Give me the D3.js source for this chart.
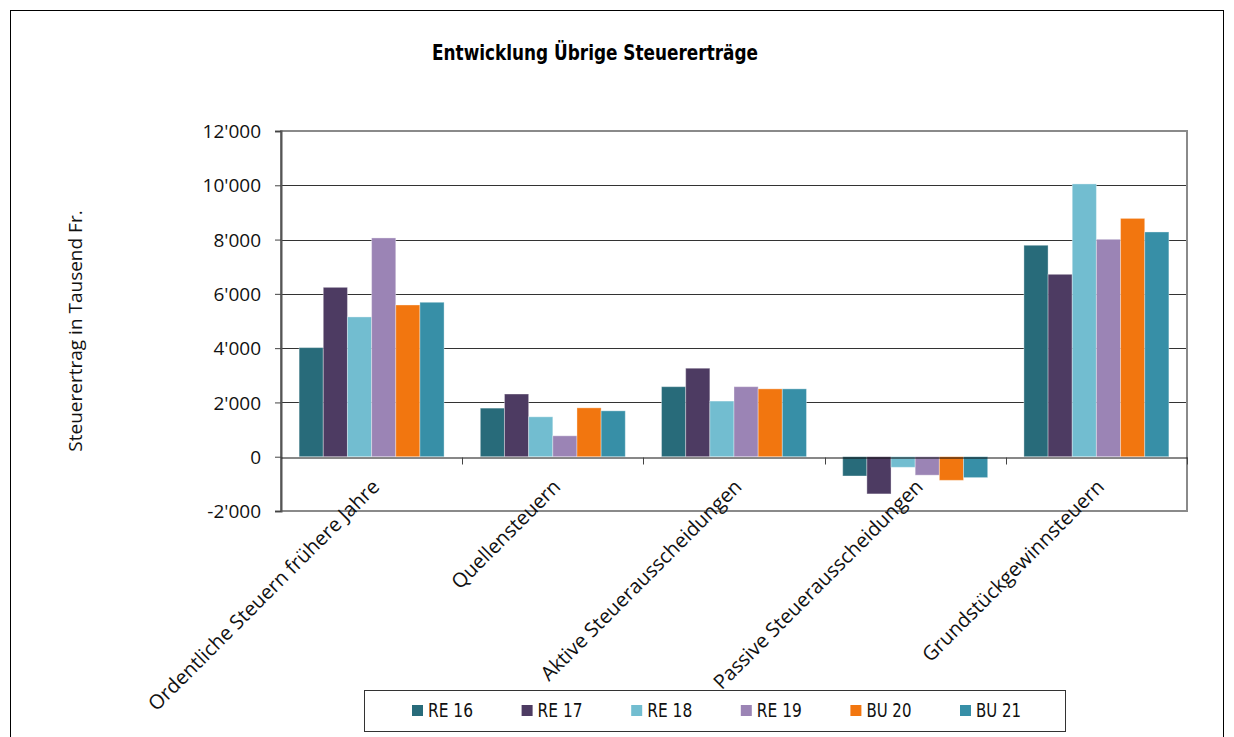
<!DOCTYPE html>
<html>
<head>
<meta charset="utf-8">
<script src="https://cdn.jsdelivr.net/npm/d3@7"></script>
<style>
  body { margin: 0; background: #fff; }
  svg { display: block; }
  .tick-label { font-family: "Open Sans", sans-serif; font-size: 19px; fill: #111; }
  .cat-label { font-family: "Open Sans", sans-serif; font-size: 20px; fill: #111; }
  .legend-label { font-family: "DejaVu Sans Condensed", sans-serif; font-size: 20px; fill: #111; }
</style>
</head>
<body>
<svg id="chart" width="1234" height="737"></svg>
<script>
let categories = ['Ordentliche Steuern frühere Jahre', 'Quellensteuern', 'Aktive Steuerausscheidungen',
                  'Passive Steuerausscheidungen', 'Grundstückgewinnsteuern'];
let series = ['RE 16', 'RE 17', 'RE 18', 'RE 19', 'BU 20', 'BU 21'];
let colors = ['#286b7a', '#4d3b62', '#72bdd0', '#9b84b5', '#f2760f', '#378fa7'];

let re16 = [4020, 1790, 2580, -710, 7790];
let re17 = [6240, 2310, 3260, -1370, 6720];
let re18 = [5150, 1470, 2050, -390, 10050];
let re19 = [8060, 770, 2580, -680, 8010];
let bu20 = [5590, 1800, 2500, -870, 8780];
let bu21 = [5690, 1690, 2500, -770, 8280];
let values = [re16, re17, re18, re19, bu20, bu21];

let yTicks = [-2000, 0, 2000, 4000, 6000, 8000, 10000, 12000];

var config = {
    left: 281,
    right: 1187,
    top: 131,
    bottom: 511
}

let svg = d3.select('#chart');

// outer frame
svg.append('rect')
    .attr('x', 10.5).attr('y', 10.5)
    .attr('width', 1213).attr('height', 800)
    .attr('fill', 'none')
    .attr('stroke', '#000')
    .attr('stroke-width', 1);

svg.append('text')
    .attr('x', 432)
    .attr('y', 60)
    .attr('textLength', 326)
    .attr('lengthAdjust', 'spacingAndGlyphs')
    .style('font-family', '"DejaVu Sans Condensed", sans-serif')
    .style('font-weight', 'bold')
    .style('font-size', '21px')
    .text('Entwicklung Übrige Steuererträge');

let x0 = d3.scaleBand()
    .domain(categories)
    .range([config.left, config.right]);

let bw = x0.bandwidth();
let x1 = d3.scaleBand()
    .domain(series)
    .range([bw * 0.1, bw * 0.9]);

let y = d3.scaleLinear()
    .domain([-2000, 12000])
    .range([config.bottom, config.top]);

function formatTick(v){
    let s = d3.format(',')(v);
    return s.replace(/,/g, "'").replace('−', '-');
}

// gridlines
svg.append('g')
    .selectAll('line')
    .data(yTicks.filter(function(d){ return d > 0 && d < 12000 }))
    .join('line')
    .attr('x1', config.left)
    .attr('x2', config.right)
    .attr('y1', function(d){ return Math.round(y(d)) + 0.5 })
    .attr('y2', function(d){ return Math.round(y(d)) + 0.5 })
    .attr('stroke', '#333')
    .attr('stroke-width', 1);

// plot border
svg.append('rect')
    .attr('x', config.left)
    .attr('y', config.top)
    .attr('width', config.right - config.left)
    .attr('height', config.bottom - config.top)
    .attr('fill', 'none')
    .attr('stroke', '#8a8a8a')
    .attr('stroke-width', 2);

// bars
let groups = svg.append('g')
    .selectAll('g')
    .data(categories)
    .join('g')
    .attr('transform', function(d){ return 'translate(' + x0(d) + ',0)' });

groups.selectAll('rect')
    .data(function(d, i){
        return series.map(function(s, j){ return {s: s, v: values[j][i], c: colors[j]} })
    })
    .join('rect')
    .attr('x', function(d){ return x1(d.s) })
    .attr('width', x1.bandwidth())
    .attr('y', function(d){ return y(Math.max(0, d.v)) })
    .attr('height', function(d){ return Math.abs(y(d.v) - y(0)) })
    .attr('fill', function(d){ return d.c })
    .attr('stroke', 'rgba(255,255,255,0.35)')
    .attr('stroke-width', 1);

// y axis
let yAxis = d3.axisLeft(y)
    .tickValues(yTicks)
    .tickSize(6)
    .tickPadding(14)
    .tickFormat(formatTick);

let yg = svg.append('g')
    .attr('transform', 'translate(' + config.left + ',0)')
    .call(yAxis);
yg.select('.domain').attr('stroke', '#555').attr('stroke-width', 2);
yg.selectAll('.tick line').attr('stroke', '#444');
yg.selectAll('.tick text').attr('class', 'tick-label').attr('dy', '0.35em');

// zero line with category ticks
let xAxis = d3.axisBottom(x0)
    .tickSize(0)
    .tickFormat('');
let xg = svg.append('g')
    .attr('transform', 'translate(0,' + (Math.round(y(0)) + 0.5) + ')')
    .call(xAxis);
xg.select('.domain').attr('stroke', '#111').attr('stroke-width', 1);

xg.selectAll('.sep')
    .data(categories.slice(1).concat(['end']))
    .join('line')
    .attr('class', 'sep')
    .attr('x1', function(d, i){ return Math.round(config.left + bw * (i + 1)) + 0.5 })
    .attr('x2', function(d, i){ return Math.round(config.left + bw * (i + 1)) + 0.5 })
    .attr('y1', 0)
    .attr('y2', 7)
    .attr('stroke', '#444');

// rotated category labels
svg.append('g')
    .selectAll('text')
    .data(categories)
    .join('text')
    .attr('class', 'cat-label')
    .attr('text-anchor', 'end')
    .attr('transform', function(d){
        let cx = x0(d) + bw / 2 + 9;
        return 'translate(' + cx + ',' + 488 + ') rotate(-45)';
    })
    .text(function(d){ return d });

// y axis title
svg.append('text')
    .attr('class', 'cat-label')
    .attr('text-anchor', 'middle')
    .attr('transform', 'translate(82,331) rotate(-90)')
    .style('font-size', '19px')
    .text('Steuerertrag in Tausend Fr.');

// legend
let legend = svg.append('g');
legend.append('rect')
    .attr('x', 364.5).attr('y', 690.5)
    .attr('width', 701).attr('height', 41)
    .attr('fill', '#fff')
    .attr('stroke', '#333');

let lx = d3.scalePoint()
    .domain(series)
    .range([412, 960]);

let items = legend.selectAll('g.item')
    .data(series)
    .join('g')
    .attr('class', 'item')
    .attr('transform', function(d){ return 'translate(' + lx(d) + ',705)' });

items.append('rect')
    .attr('width', 11).attr('height', 11)
    .attr('fill', function(d, i){ return colors[i] });

items.append('text')
    .attr('class', 'legend-label')
    .attr('x', 16)
    .attr('y', 12)
    .attr('textLength', 45)
    .attr('lengthAdjust', 'spacingAndGlyphs')
    .text(function(d){ return d });
</script>
</body>
</html>
